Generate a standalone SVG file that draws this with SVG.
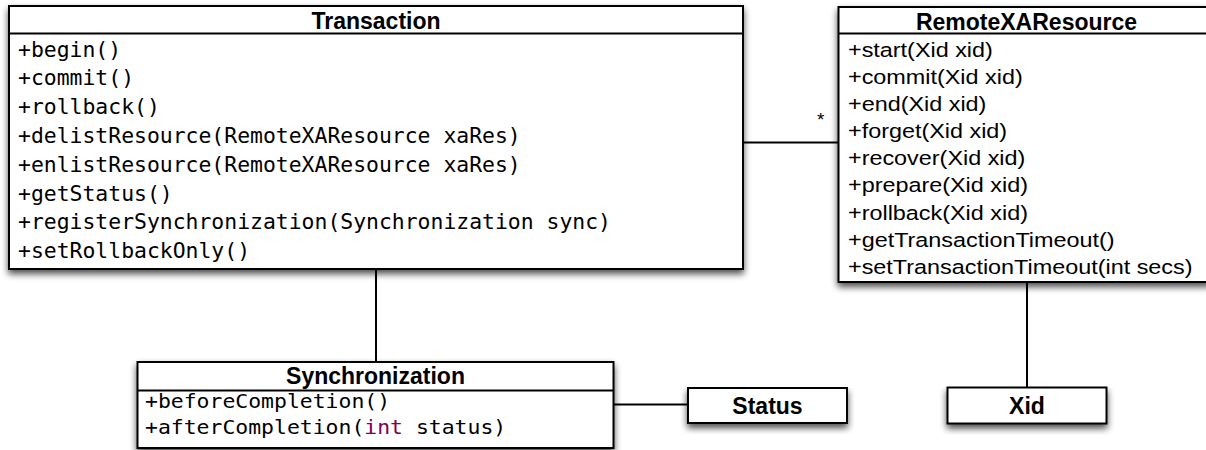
<svg xmlns="http://www.w3.org/2000/svg" width="1206" height="450" viewBox="0 0 1206 450">
  <defs>
    <filter id="shadow" x="-5%" y="-10%" width="110%" height="140%">
      <feGaussianBlur in="SourceAlpha" stdDeviation="3.5"/>
      <feOffset dy="4"/>
      <feComponentTransfer><feFuncA type="linear" slope="0.7"/></feComponentTransfer>
      <feMerge><feMergeNode/><feMergeNode in="SourceGraphic"/></feMerge>
    </filter>
    <style>
      .box { fill: #fff; stroke: #000; stroke-width: 2; filter: url(#shadow); }
      .div { stroke: #000; stroke-width: 2; }
      .conn { stroke: #000; stroke-width: 2; fill: none; }
      .title { font-family: "Liberation Sans", Arial, sans-serif; font-weight: bold; font-size: 23px; text-anchor: middle; fill: #000; }
      .mono { font-family: "DejaVu Sans Mono", monospace; font-size: 21px; fill: #000; }
      .monos { font-family: "DejaVu Sans Mono", monospace; font-size: 20px; fill: #000; }
      .sans { font-family: "Liberation Sans", Arial, sans-serif; font-size: 19.5px; fill: #000; }
      .kw { fill: #7f0055; }
      .mult { font-family: "Liberation Sans", Arial, sans-serif; font-size: 19px; fill: #000; }
    </style>
  </defs>
  <rect width="1206" height="450" fill="#fff"/>

  <g id="connectors">
    <line class="conn" x1="743" y1="142.5" x2="838" y2="142.5"/>
    <line class="conn" x1="376" y1="269" x2="376" y2="362"/>
    <line class="conn" x1="613" y1="404.5" x2="688" y2="404.5"/>
    <line class="conn" x1="1027" y1="282" x2="1027" y2="387.5"/>
    <text class="mult" x="817" y="126">*</text>
  </g>

  <g id="transaction">
    <rect class="box" x="9" y="6" width="734" height="263"/>
    <line class="div" x1="9" y1="33.5" x2="743" y2="33.5"/>
    <text class="title" x="376" y="28.5">Transaction</text>
    <g transform="translate(18,0) scale(1.02,1)">
      <text class="mono" x="0" y="56.7">+begin()</text>
      <text class="mono" x="0" y="85.5">+commit()</text>
      <text class="mono" x="0" y="114.3">+rollback()</text>
      <text class="mono" x="0" y="143.1">+delistResource(RemoteXAResource xaRes)</text>
      <text class="mono" x="0" y="171.9">+enlistResource(RemoteXAResource xaRes)</text>
      <text class="mono" x="0" y="200.7">+getStatus()</text>
      <text class="mono" x="0" y="229.5">+registerSynchronization(Synchronization sync)</text>
      <text class="mono" x="0" y="258.3">+setRollbackOnly()</text>
    </g>
  </g>

  <g id="remote-xa-resource">
    <rect class="box" x="838.5" y="7" width="372" height="275"/>
    <line class="div" x1="838.5" y1="33.5" x2="1210" y2="33.5"/>
    <text class="title" x="1026.5" y="29.5">RemoteXAResource</text>
    <g transform="translate(848,0) scale(1.2,1)">
      <text class="sans" x="0" y="57">+start(Xid xid)</text>
      <text class="sans" x="0" y="84.1">+commit(Xid xid)</text>
      <text class="sans" x="0" y="111.2">+end(Xid xid)</text>
      <text class="sans" x="0" y="138.3">+forget(Xid xid)</text>
      <text class="sans" x="0" y="165.4">+recover(Xid xid)</text>
      <text class="sans" x="0" y="192.5">+prepare(Xid xid)</text>
      <text class="sans" x="0" y="219.6">+rollback(Xid xid)</text>
      <text class="sans" x="0" y="246.7">+getTransactionTimeout()</text>
      <text class="sans" x="0" y="273.8">+setTransactionTimeout(int secs)</text>
    </g>
  </g>

  <g id="synchronization">
    <rect class="box" x="137.5" y="362" width="476" height="86"/>
    <line class="div" x1="137.5" y1="390.5" x2="613.5" y2="390.5"/>
    <text class="title" x="375.5" y="383.5">Synchronization</text>
    <g transform="translate(145,0) scale(1.072,1)">
      <text class="monos" x="0" y="408">+beforeCompletion()</text>
      <text class="monos" x="0" y="434.5">+afterCompletion(<tspan class="kw">int</tspan> status)</text>
    </g>
  </g>

  <g id="status">
    <rect class="box" x="688" y="388" width="159" height="35"/>
    <text class="title" x="767.5" y="413.5">Status</text>
  </g>

  <g id="xid">
    <rect class="box" x="947.5" y="387.5" width="159" height="36"/>
    <text class="title" x="1027" y="413.5">Xid</text>
  </g>
</svg>
